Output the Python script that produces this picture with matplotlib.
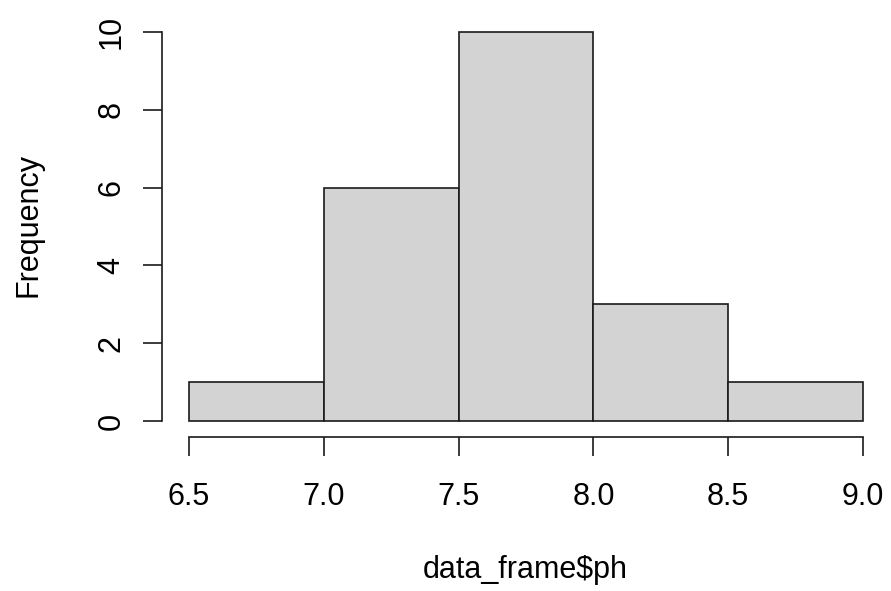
import matplotlib
matplotlib.use('Agg')
import matplotlib.pyplot as plt
import numpy as np

############### data
bin_edges = [6.5, 7.0, 7.5, 8.0, 8.5, 9.0]
counts = [1, 6, 10, 3, 1]
x_ticks = [6.5, 7.0, 7.5, 8.0, 8.5, 9.0]
x_tick_labels = ['6.5', '7.0', '7.5', '8.0', '8.5', '9.0']
y_ticks = [0, 2, 4, 6, 8, 10]

plt.rcParams['font.family'] = ['Liberation Sans', 'DejaVu Sans']
W, H = 891, 591
fig = plt.figure(figsize=(W / 100, H / 100), dpi=100)

# axes placed in pixels so the R-style offset axes land where they should
left, right, bottom, top = 162, 890, 436.6, 16.5
ax = fig.add_axes([left / W, 1 - bottom / H, (right - left) / W, (bottom - top) / H])

widths = np.diff(bin_edges)
ax.bar(bin_edges[:-1], counts, width=widths, align='edge',
       color='#D3D3D3', edgecolor='#1a1a1a', linewidth=1.2)

ax.set_xlim(6.4, 9.1)
ax.set_ylim(-0.4, 10.4)

for side in ['top', 'right']:
    ax.spines[side].set_visible(False)
ax.spines['left'].set_bounds(0, 10)
ax.spines['bottom'].set_bounds(6.5, 9.0)
for side in ['left', 'bottom']:
    ax.spines[side].set_linewidth(1.2)
    ax.spines[side].set_color('#1a1a1a')

ax.set_xticks(x_ticks)
ax.set_xticklabels(x_tick_labels)
ax.set_yticks(y_ticks)
ax.set_yticklabels([str(v) for v in y_ticks], rotation=90, va='center')
ax.tick_params(axis='both', length=13.7, width=1.2, color='#1a1a1a', labelsize=22)
ax.tick_params(axis='x', pad=19)
ax.tick_params(axis='y', pad=12)

fig.text(28 / W, 1 - 225 / H, 'Frequency', rotation=90, ha='center', va='center', fontsize=22)
fig.text(525 / W, 1 - 570 / H, 'data_frame$ph', ha='center', va='center', fontsize=22)

fig.savefig('out.png', dpi=100)
